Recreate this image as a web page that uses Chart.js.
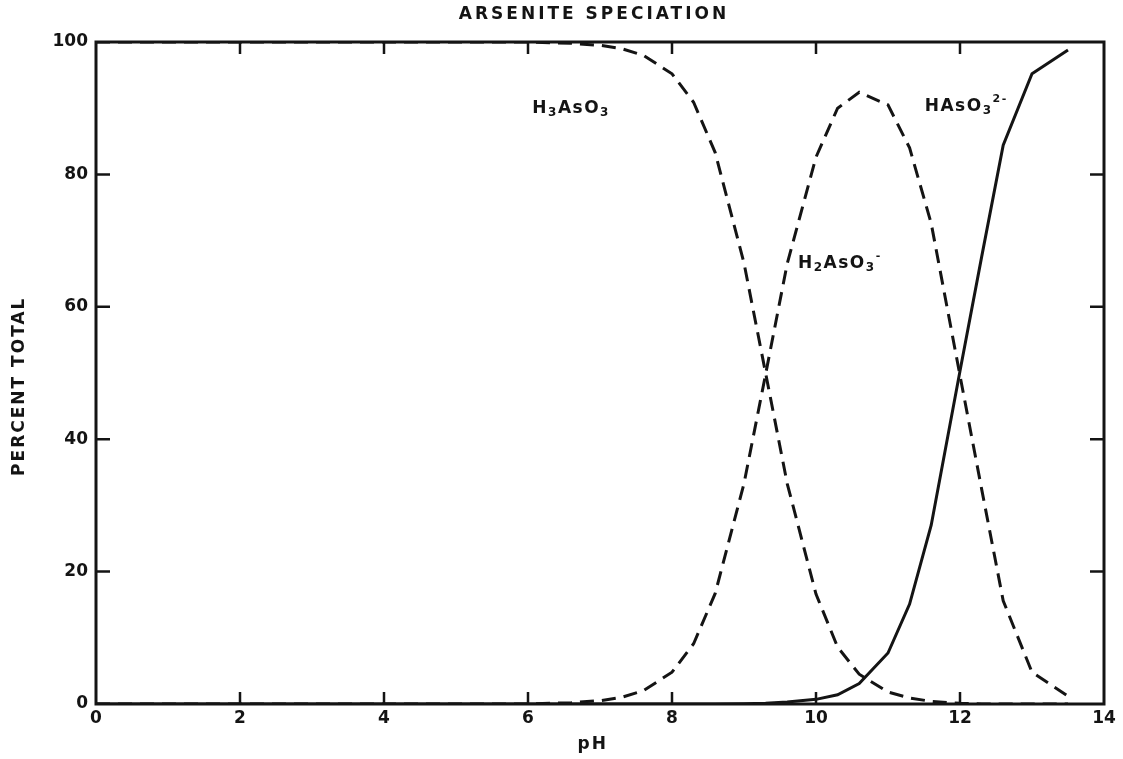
<!DOCTYPE html>
<html lang="en">
<head>
    <meta charset="UTF-8">
    <title>Arsenite Speciation</title>
    <script src="https://cdn.jsdelivr.net/npm/chart.js"></script>
    <style>
        body {
            margin: 0;
            background-color: #ffffff;
        }
        canvas {
            display: block;
        }
    </style>
</head>
<body>
    <canvas id="speciationChart" width="1123" height="759"></canvas>

    <script>
        // pH grid and percent of total arsenite for each species
        const phValues = [0, 1, 2, 3, 4, 5, 6, 6.3, 6.6, 7, 7.3, 7.6, 8, 8.3, 8.6, 9, 9.3, 9.6, 10, 10.3, 10.6, 11, 11.3, 11.6, 12, 12.3, 12.6, 13, 13.5];
        const h3aso3 = [100, 100, 100, 100, 100, 100, 100, 99.9, 99.8, 99.5, 99.0, 98.0, 95.2, 90.9, 83.3, 66.6, 50.0, 33.3, 16.6, 8.6, 4.5, 1.8, 0.9, 0.4, 0.1, 0, 0, 0, 0];
        const h2aso3 = [0, 0, 0, 0, 0, 0, 0, 0.1, 0.2, 0.5, 1.0, 2.0, 4.8, 9.1, 16.7, 33.3, 49.8, 66.5, 82.6, 90.0, 92.4, 90.5, 84.0, 72.6, 49.6, 32.5, 15.6, 4.8, 1.2];
        const haso3 = [0, 0, 0, 0, 0, 0, 0, 0, 0, 0, 0, 0, 0, 0, 0, 0.05, 0.1, 0.3, 0.7, 1.4, 3.1, 7.7, 15.1, 27.0, 50.3, 67.5, 84.4, 95.2, 98.8];

        const xTicks = [0, 2, 4, 6, 8, 10, 12, 14];
        const yTicks = [0, 20, 40, 60, 80, 100];

        const chartTitle = 'ARSENITE SPECIATION';
        const xTitle = 'pH';
        const yTitle = 'PERCENT TOTAL';

        const toPoints = values => phValues.map((ph, i) => ({ x: ph, y: values[i] }));

        const INK = '#141414';
        const LABEL_FONT = "bold 17px 'DejaVu Sans'";

        // formula pieces: plain text, subscript, superscript
        function drawFormula(ctx, parts, x, y) {
            let cx = x;
            parts.forEach(([text, kind]) => {
                if (kind === 'sub') {
                    ctx.font = "bold 12px 'DejaVu Sans'";
                    ctx.fillText(text, cx, y + 5);
                } else if (kind === 'sup') {
                    ctx.font = "bold 11px 'DejaVu Sans'";
                    ctx.fillText(text, cx, y - 7);
                } else {
                    ctx.font = LABEL_FONT;
                    ctx.fillText(text, cx, y);
                }
                cx += ctx.measureText(text).width;
            });
        }

        // frame, inward ticks, tick labels, titles and curve labels
        const framePlugin = {
            id: 'framePlugin',
            afterDatasetsDraw: (chart) => {
                const ctx = chart.ctx;
                const xs = chart.scales.x;
                const ys = chart.scales.y;
                const { left, right, top, bottom } = chart.chartArea;

                ctx.save();
                ctx.strokeStyle = INK;
                ctx.fillStyle = INK;
                ctx.lineWidth = 3;
                ctx.setLineDash([]);
                ctx.strokeRect(left, top, right - left, bottom - top);

                // inward ticks on all four sides
                ctx.lineWidth = 2.5;
                ctx.beginPath();
                xTicks.slice(1, -1).forEach(v => {
                    const px = xs.getPixelForValue(v);
                    ctx.moveTo(px, bottom); ctx.lineTo(px, bottom - 12);
                    ctx.moveTo(px, top); ctx.lineTo(px, top + 12);
                });
                yTicks.slice(1, -1).forEach(v => {
                    const py = ys.getPixelForValue(v);
                    ctx.moveTo(left, py); ctx.lineTo(left + 14, py);
                    ctx.moveTo(right, py); ctx.lineTo(right - 14, py);
                });
                ctx.stroke();

                // tick labels
                ctx.font = LABEL_FONT;
                ctx.textBaseline = 'middle';
                ctx.textAlign = 'center';
                xTicks.forEach(v => ctx.fillText(String(v), xs.getPixelForValue(v), bottom + 15));
                ctx.textAlign = 'right';
                yTicks.forEach(v => ctx.fillText(String(v), left - 8, ys.getPixelForValue(v)));

                // titles
                ctx.textAlign = 'center';
                ctx.letterSpacing = '3px';
                ctx.font = "bold 17px 'DejaVu Sans'";
                ctx.fillText(chartTitle, (left + right) / 2 - 6, 15);
                ctx.letterSpacing = '2px';
                ctx.fillText(xTitle, xs.getPixelForValue(6.9), 745);
                ctx.save();
                ctx.translate(20, ys.getPixelForValue(48));
                ctx.rotate(-Math.PI / 2);
                ctx.fillText(yTitle, 0, 0);
                ctx.restore();

                // species labels
                ctx.textAlign = 'left';
                ctx.letterSpacing = '1.5px';
                drawFormula(ctx, [['H'], ['3', 'sub'], ['AsO'], ['3', 'sub']],
                    xs.getPixelForValue(6.06), ys.getPixelForValue(90));
                drawFormula(ctx, [['H'], ['2', 'sub'], ['AsO'], ['3', 'sub'], ['-', 'sup']],
                    xs.getPixelForValue(9.75), ys.getPixelForValue(66.6));
                drawFormula(ctx, [['HAsO'], ['3', 'sub'], ['2-', 'sup']],
                    xs.getPixelForValue(11.51), ys.getPixelForValue(90.3));
                ctx.restore();
            }
        };

        const lineStyle = {
            borderColor: INK,
            borderWidth: 3,
            pointRadius: 0,
            tension: 0,
            fill: false
        };

        const config = {
            type: 'line',
            data: {
                datasets: [
                    { label: 'H3AsO3', data: toPoints(h3aso3), borderDash: [14, 8], ...lineStyle },
                    { label: 'H2AsO3-', data: toPoints(h2aso3), borderDash: [14, 8], ...lineStyle },
                    { label: 'HAsO3 2-', data: toPoints(haso3), ...lineStyle }
                ]
            },
            options: {
                responsive: false,
                animation: false,
                devicePixelRatio: 1,
                layout: {
                    padding: { left: 96, right: 19, top: 42, bottom: 55 }
                },
                plugins: {
                    legend: { display: false },
                    tooltip: { enabled: false }
                },
                scales: {
                    x: { type: 'linear', min: 0, max: 14, display: false },
                    y: { min: 0, max: 100, display: false }
                }
            },
            plugins: [framePlugin]
        };

        new Chart(document.getElementById('speciationChart'), config);
    </script>
</body>
</html>
